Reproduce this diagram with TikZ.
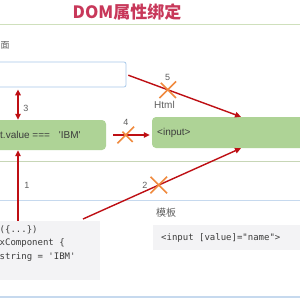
\documentclass[tikz,border=0pt]{standalone}
\usepackage{fontspec}
\setmainfont{Liberation Sans}
\setmonofont{DejaVu Sans Mono}
\newfontfamily\cjk{Noto Sans CJK SC}
\usetikzlibrary{arrows.meta,shapes.misc,positioning}
\definecolor{TitleRed}{HTML}{C8385A}
\definecolor{LinkRed}{HTML}{BE0F14}
\definecolor{CrossOrange}{HTML}{F08A3E}
\definecolor{BoxGreen}{HTML}{AED396}
\definecolor{CodeGray}{HTML}{F3F3F5}
\definecolor{FrameBlue}{HTML}{A9C9EA}
\definecolor{RuleGreen}{HTML}{CFE0BC}
\definecolor{RuleBlue}{HTML}{C6D9EE}
\definecolor{TextGray}{HTML}{3C3C3C}
\definecolor{NumGray}{HTML}{5E5E5E}

\begin{document}
\begin{tikzpicture}[x=1pt,y=-1pt, every node/.style={font=\normalsize, text=TextGray},
  greenbox/.style={fill=BoxGreen, rounded corners=4pt, inner sep=0pt},
  codebox/.style={fill=CodeGray, inner sep=0pt},
  link/.style={draw=LinkRed, line width=1.4pt, -{Triangle[length=6pt,width=5.5pt]}},
  nope/.style={cross out, draw=CrossOrange, line width=1.6pt, minimum size=15pt, inner sep=0pt},
  num/.style={font=\small, text=NumGray, inner sep=0pt}]
  \useasboundingbox[fill=white] (0,0) rectangle (300,300);
  % title and rules
  \node[font=\cjk\fontsize{17}{20}\selectfont\bfseries, text=TitleRed] (title) at (127,12) {DOM属性绑定};
  \draw[RuleGreen, line width=1pt] (0,24) -- (300,24);
  \draw[RuleGreen!90!gray, line width=0.8pt] (0,161) -- (300,161);
  \draw[RuleBlue, line width=1pt] (0,200) -- (300,200);
  \draw[RuleBlue, line width=1.2pt] (0,297) -- (300,297);
  % page side
  \node[font=\cjk\small, text=NumGray, anchor=west, inner sep=0pt] (page) at (0.5,45) {面};
  \node[draw=FrameBlue, line width=0.8pt, rounded corners=2pt, fill=white,
        minimum width=146pt, minimum height=25pt, inner sep=0pt] (ibox) at (53,74.5) {};
  \node[greenbox, minimum width=120pt, minimum height=30pt] (cond) at (46,135) {};
  \node[anchor=west, inner sep=0pt] (condtxt) at (0,135) {t.value ===\hspace{9pt}\textquotesingle IBM\textquotesingle};
  % html side
  \node[anchor=west, text=NumGray, inner sep=0pt] (htmllbl) at (154,105) {Html};
  \node[greenbox, minimum width=178pt, minimum height=31pt] (html) at (241,132.5) {};
  \node[anchor=west, inner sep=0pt] (htmltxt) at (157,132.5) {<input>};
  % code blocks
  \node[codebox, minimum width=120pt, minimum height=59pt] (code) at (40,250.5) {};
  \node[anchor=north west, inner sep=0pt, align=left, font=\ttfamily\fontsize{9}{13.5}\selectfont]
        (codetxt) at (-0.5,225) {(\{...\})\\xComponent \{\\string = 'IBM'};
  \node[font=\cjk\normalsize, text=NumGray, anchor=west, inner sep=0pt] (tpl) at (156,213) {模板};
  \node[codebox, minimum width=178pt, minimum height=25pt] (tplcode) at (242,237.5) {};
  \node[anchor=west, inner sep=0pt, font=\ttfamily\fontsize{9}{11}\selectfont] (tpltxt) at (161,237.5) {<input [value]="name">};
  % connectors
  \coordinate (x18) at (18,0);
  \coordinate (c2) at (83,219);
  \draw[link, {Triangle[length=6pt,width=5.5pt]}-{Triangle[length=6pt,width=5.5pt]}, shorten <=2pt]
        (ibox.south -| x18) -- (cond.north -| x18);
  \node[num] (n3) at (26,108) {3};
  \draw[link] (code.north -| x18) -- (cond.south -| x18);
  \node[num] (n1) at (27,185) {1};
  \draw[link, shorten <=7pt, shorten >=2pt] (cond.east) -- node[nope, pos=0.43] (x4) {} (cond.east -| html.west);
  \node[num, above=1pt of x4] (n4) {4};
  \draw[link, shorten <=2pt] (ibox.east) -- node[nope, pos=0.36] (x5) {} (html.north);
  \node[num, above=1pt of x5] (n5) {5};
  \draw[link] (c2) -- node[nope, pos=0.48] (x2) {} (html.south);
  \node[num, left=3pt of x2] (n2) {2};
\end{tikzpicture}
\end{document}
